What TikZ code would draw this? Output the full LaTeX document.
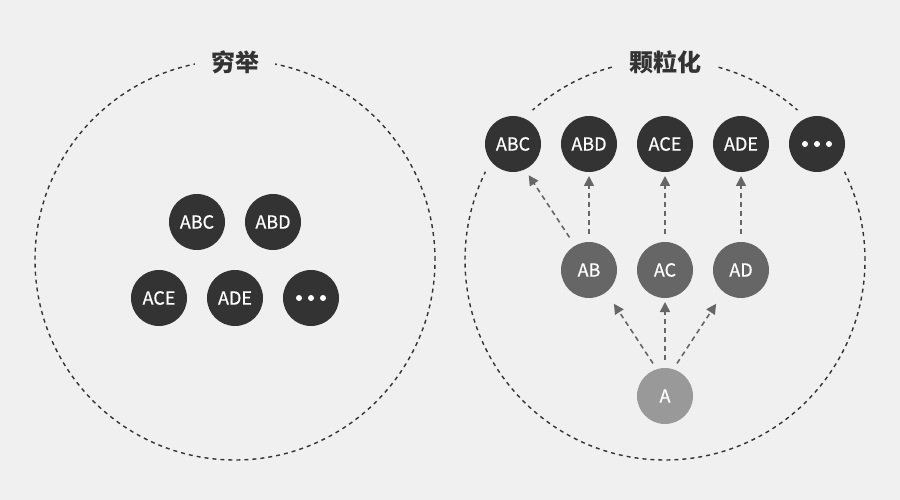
\documentclass[tikz,border=0pt]{standalone}
\usepackage{fontspec}
\setmainfont{Noto Sans CJK SC}
\newfontfamily\ballfont{Noto Sans CJK SC}[FakeBold=0.6]
\usetikzlibrary{arrows.meta,calc}
\definecolor{bgc}{HTML}{F0F0F0}
\definecolor{dark}{HTML}{333333}
\definecolor{mid}{HTML}{666666}
\definecolor{light}{HTML}{999999}

\begin{document}
\begin{tikzpicture}[
		x=1pt,y=-1pt,
		ball/.style={circle,fill=dark,text=white,minimum size=56pt,inner sep=0pt,outer sep=0pt,font=\ballfont\fontsize{18}{18}\selectfont},
		ballmid/.style={ball,fill=mid},
		balllow/.style={ball,fill=light},
		cut/.style={preaction={draw=bgc,line width=22pt}},
		ring/.style={draw=dark,dash pattern=on 4pt off 4pt,line width=1.4pt},
		title/.style={fill=bgc,inner xsep=16pt,text=dark,font=\fontsize{24}{24}\selectfont\bfseries},
		arr/.style={draw=mid,line width=1.6pt,dash pattern=on 5pt off 4pt,-{Triangle[length=10pt,width=10pt]},shorten <=8pt,shorten >=4pt},
%		every node/.style={draw=red}
		]
	\fill[bgc] (0,0) rectangle (900,500);
	% the two sets
	\draw[ring] (235,260) circle (200pt);
	\draw[ring] (665,260) circle (200pt);
	\node[title] (tleft) at (235,62) {穷举};
	\node[title] (tright) at (665,62) {颗粒化};
	% left: all at once
	\node[ball] (lABC) at (197,222) {ABC};
	\node[ball] (lABD) at (273,222) {ABD};
	\node[ball] (lACE) at (159,298) {ACE};
	\node[ball] (lADE) at (235,298) {ADE};
	\node[ball] (ldots) at (311,298) {};
	% right: step by step
	\node[ball,cut] (rABC) at (513,144) {ABC};
	\node[ball] (rABD) at (589,144) {ABD};
	\node[ball] (rACE) at (665,144) {ACE};
	\node[ball] (rADE) at (741,144) {ADE};
	\node[ball,cut] (rdots) at (817,144) {};
	\node[ballmid] (AB) at (589,270) {AB};
	\node[ballmid] (AC) at (665,270) {AC};
	\node[ballmid] (AD) at (741,270) {AD};
	\node[balllow] (A) at (665,396) {A};
	\foreach \n in {ldots,rdots}
		\foreach \d in {-12,0,12}
			\fill[white] ($(\n)+(\d,0)$) circle (3pt);
	\draw[arr,shorten <=7pt,shorten >=14pt] (A.107) -- (AB.-52);
	\draw[arr] (A) -- (AC);
	\draw[arr,shorten <=7pt,shorten >=14pt] (A.73) -- (AD.-128);
	\draw[arr,shorten <=10pt,shorten >=7pt] (AB.120) -- (rABC.-65);
	\draw[arr] (AB) -- (rABD);
	\draw[arr] (AC) -- (rACE);
	\draw[arr] (AD) -- (rADE);
\end{tikzpicture}
\end{document}
